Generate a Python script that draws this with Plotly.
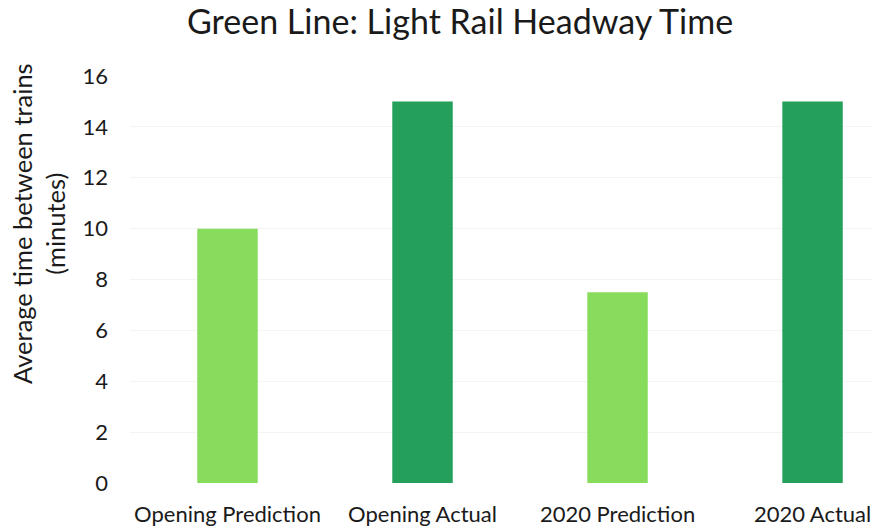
import plotly.graph_objects as go

categories = ["Opening Prediction", "Opening Actual", "2020 Prediction", "2020 Actual"]
headway_minutes = [10, 15, 7.5, 15]
bar_colors = ["#88DC5B", "#24A05A", "#88DC5B", "#24A05A"]
y_ticks = [0, 2, 4, 6, 8, 10, 12, 14, 16]

fig = go.Figure(
    go.Bar(
        x=list(range(len(categories))),
        y=headway_minutes,
        marker=dict(color=bar_colors, line=dict(width=0)),
        width=0.31,
    )
)

fig.update_layout(
    width=873,
    height=526,
    margin=dict(l=130, r=0, t=76, b=43),
    paper_bgcolor="white",
    plot_bgcolor="white",
    showlegend=False,
    font=dict(family="Lato, Carlito, sans-serif", color="#1A1A1A"),
    title=dict(
        text="Green Line: Light Rail Headway Time",
        x=0.527,
        xanchor="center",
        y=0.958,
        yanchor="middle",
        font=dict(size=34, color="#1A1A1A"),
    ),
    annotations=[
        dict(
            text="Average time between trains<br>(minutes)",
            xref="paper",
            yref="paper",
            x=-0.123,
            y=0.638,
            xanchor="center",
            yanchor="middle",
            textangle=-90,
            showarrow=False,
            font=dict(size=25.5, color="#1A1A1A"),
        )
    ],
)

fig.update_xaxes(
    range=[-0.5, 3.31],
    tickmode="array",
    tickvals=list(range(len(categories))),
    ticktext=categories,
    tickfont=dict(size=22),
    showgrid=False,
    zeroline=False,
    showline=False,
    ticks="",
    ticklabelstandoff=16,
)

fig.update_yaxes(
    range=[0, 16],
    tickmode="array",
    tickvals=y_ticks,
    tickfont=dict(size=22),
    showgrid=True,
    gridcolor="#F4F4F4",
    gridwidth=1,
    zeroline=False,
    showline=False,
    ticks="",
    ticklabelstandoff=21,
)

fig.write_html("out.html")
